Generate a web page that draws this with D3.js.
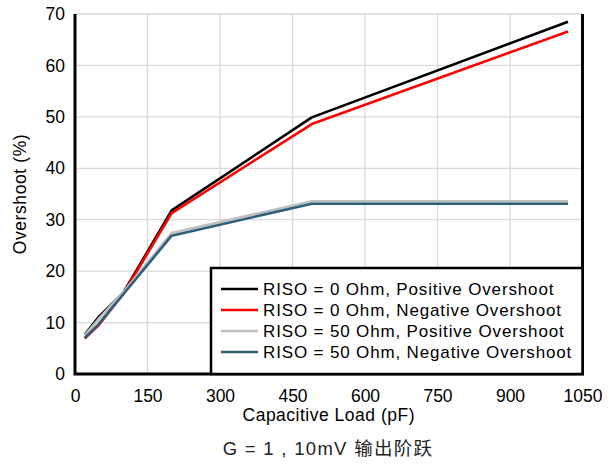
<!DOCTYPE html>
<html><head><meta charset="utf-8">
<script src="https://cdn.jsdelivr.net/npm/d3@7"></script>
<style>body{margin:0;background:#fff}text{font-family:"Liberation Sans",Arial,sans-serif}</style>
</head><body><svg id="c" width="612" height="464"></svg>
<script>
const capLoad = [20, 48, 100, 200, 490, 1020];
const riso0Pos = [7.6, 11.0, 15.8, 31.8, 49.9, 68.5];
const riso0Neg = [6.9, 9.4, 15.6, 31.3, 48.6, 66.6];
const riso50Pos = [7.5, 10.6, 15.9, 27.4, 33.6, 33.6];
const riso50Neg = [7.0, 9.6, 15.5, 26.9, 33.1, 33.1];
const seriesNames = ["RISO = 0 Ohm, Positive Overshoot","RISO = 0 Ohm, Negative Overshoot","RISO = 50 Ohm, Positive Overshoot","RISO = 50 Ohm, Negative Overshoot"];
const seriesColors = ["#000000","#ff0000","#bfbfbf","#2e5f7a"];
const xTicks = [0,150,300,450,600,750,900,1050];
const yTicks = [0,10,20,30,40,50,60,70];
const series = [riso0Pos, riso0Neg, riso50Pos, riso50Neg];

const svg = d3.select("#c");
const L=75, R=582.5, T=14, B=374;
const x = d3.scaleLinear().domain([0,1050]).range([L,R]);
const y = d3.scaleLinear().domain([0,70]).range([B,T]);

// grid
svg.append("g").selectAll("line").data(xTicks).join("line")
  .attr("x1",d=>x(d)).attr("x2",d=>x(d)).attr("y1",T).attr("y2",B)
  .attr("stroke","#d9d9d9").attr("stroke-width",1.3);
svg.append("g").selectAll("line").data(yTicks).join("line")
  .attr("x1",L).attr("x2",R).attr("y1",d=>y(d)).attr("y2",d=>y(d))
  .attr("stroke","#d9d9d9").attr("stroke-width",1.3);

// axes
const xa = svg.append("g").attr("transform",`translate(0,${B})`)
  .call(d3.axisBottom(x).tickValues(xTicks).tickSize(0).tickPadding(16).tickFormat(d3.format("d")));
xa.select(".domain").remove();
xa.selectAll("text").attr("font-size",17.5).attr("fill","#000");
const ya = svg.append("g").attr("transform",`translate(${L},0)`)
  .call(d3.axisLeft(y).tickValues(yTicks).tickSize(0).tickPadding(10).tickFormat(d3.format("d")));
ya.select(".domain").remove();
ya.selectAll("text").attr("font-size",17.5).attr("fill","#000");

// lines
const line = d3.line().x((d,i)=>x(capLoad[i])).y(d=>y(d));
series.forEach((s,k)=>{
  svg.append("path").datum(s).attr("d",line).attr("fill","none")
    .attr("stroke",seriesColors[k]).attr("stroke-width",2.6).attr("stroke-linejoin","round");
});

// frame: left, bottom, right
svg.append("path").attr("d",`M${L},${T}V${B}H${R}V${T}`).attr("fill","none")
  .attr("stroke","#000").attr("stroke-width",3);

// legend
const lg = svg.append("g");
lg.append("rect").attr("x",211).attr("y",268).attr("width",R-211).attr("height",B-268)
  .attr("fill","#fff").attr("stroke","#000").attr("stroke-width",2.5);
seriesNames.forEach((n,k)=>{
  const yy = 289 + k*21;
  lg.append("line").attr("x1",221).attr("x2",258).attr("y1",yy).attr("y2",yy)
    .attr("stroke",seriesColors[k]).attr("stroke-width",2.6);
  lg.append("text").attr("x",263).attr("y",yy+6).attr("font-size",17)
    .attr("letter-spacing",0.85).text(n);
});

// titles
svg.append("text").attr("x",(L+R)/2).attr("y",421).attr("text-anchor","middle").attr("font-size",17.5)
  .attr("letter-spacing",0.5).text("Capacitive Load (pF)");
svg.append("text").attr("transform",`translate(26,${(T+B)/2}) rotate(-90)`).attr("text-anchor","middle")
  .attr("font-size",17.5).attr("letter-spacing",0.6).text("Overshoot (%)");
svg.append("text").attr("x",328).attr("y",455).attr("text-anchor","middle").attr("font-size",18.5)
  .attr("letter-spacing",1.3).attr("fill","#222")
  .style("font-family","'Liberation Sans','Noto Sans CJK SC',sans-serif").text("G = 1 , 10mV 输出阶跃");
</script></body></html>
